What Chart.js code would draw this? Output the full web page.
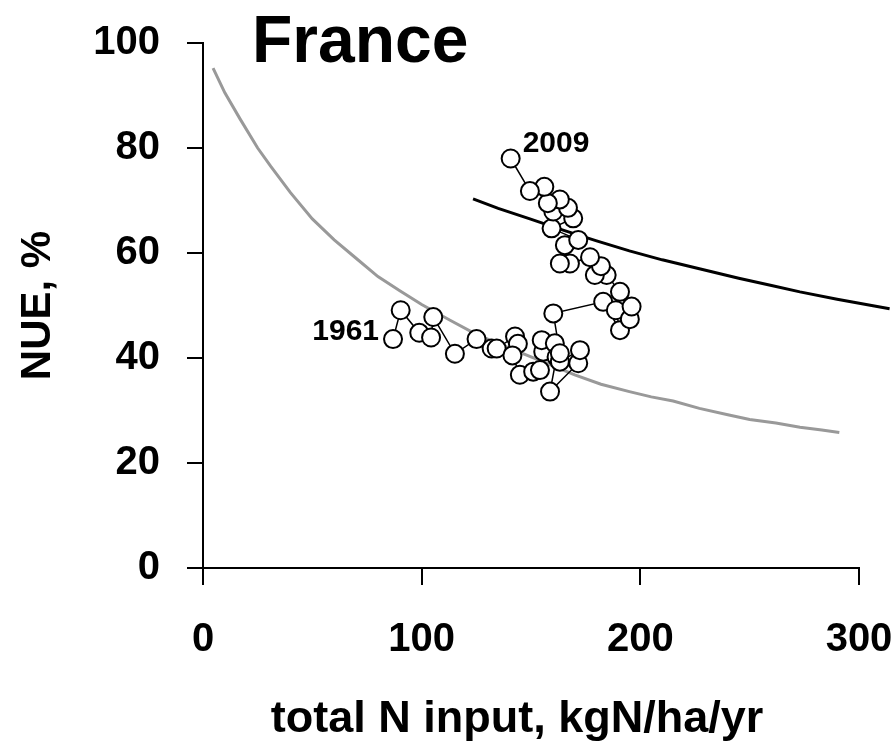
<!DOCTYPE html>
<html><head><meta charset="utf-8">
<script src="https://cdn.jsdelivr.net/npm/chart.js@4/dist/chart.umd.min.js"></script>
<style>html,body{margin:0;padding:0;background:#fff}#wrap{width:895px;height:751px}</style>
</head><body><div id="wrap"><canvas id="c" width="895" height="751"></canvas></div>
<script>
// ---- data ----
const chartTitle = 'France';
const xAxisTitle = 'total N input, kgN/ha/yr';
const yAxisTitle = 'NUE, %';
const firstYearLabel = '1961';
const lastYearLabel = '2009';

// France trajectory 1961 -> 2009 (N input kgN/ha/yr, NUE %)
const nInput = [86.9, 90.4, 98.9, 104.3, 105.3, 115.2, 125.1, 132.0, 134.3, 142.7,
  144.0, 141.5, 144.9, 151.0, 154.1, 155.6, 154.9, 160.9, 161.7, 158.7,
  171.6, 172.4, 163.2, 163.2, 160.2, 183.0, 190.7, 188.8, 195.2, 196.0,
  190.7, 184.6, 179.2, 182.0, 177.0, 167.8, 163.2, 165.5, 171.6, 159.4,
  169.3, 160.2, 166.9, 163.2, 157.7, 156.1, 149.5, 140.7];
const nue = [43.6, 49.1, 44.8, 43.9, 47.8, 40.8, 43.6, 41.8, 41.8, 44.1,
  42.7, 40.5, 36.8, 37.4, 37.7, 41.2, 43.4, 42.8, 40.2, 33.6,
  39.0, 41.5, 39.3, 40.9, 48.5, 50.7, 45.3, 49.1, 47.4, 49.8,
  52.6, 55.8, 55.8, 57.5, 59.2, 58.0, 58.0, 61.5, 62.5, 64.7,
  66.6, 67.9, 68.6, 70.2, 69.5, 72.6, 71.8, 78.0];

// grey reference curve
const greyX = [4.6, 10, 17, 25, 31, 40, 50, 60, 70, 80, 90, 100, 113, 125, 136, 150, 159, 170, 182, 195, 205, 215, 227, 240, 250, 262, 273, 283, 291];
const greyY = [95.2, 90.5, 85.5, 80.0, 76.5, 71.5, 66.5, 62.5, 59.0, 55.5, 52.8, 50.2, 47.2, 44.5, 42.6, 40.2, 38.7, 36.8, 35.0, 33.6, 32.6, 31.8, 30.4, 29.2, 28.3, 27.6, 26.8, 26.3, 25.8];

// black reference curve (runs slightly past the x-axis end)
const blackX = [123.5, 135, 149.5, 165, 180, 195, 210, 227, 245, 260, 273, 290, 314];
const blackY = [70.3, 68.5, 66.5, 64.3, 62.3, 60.4, 58.7, 57.0, 55.2, 53.8, 52.6, 51.2, 49.4];

const xTicks = [0, 100, 200, 300];
const yTicks = [0, 20, 40, 60, 80, 100];

// ---- build ----
const pts = (xs, ys) => xs.map((x, i) => ({x: x, y: ys[i]}));
const FONT = '"Liberation Sans", Arial, sans-serif';

const labelPlugin = {
  id: 'labels',
  afterDatasetsDraw(chart) {
    const ctx = chart.ctx;
    const ca = chart.chartArea;
    const meta = chart.getDatasetMeta(0);
    const first = meta.data[0], last = meta.data[meta.data.length - 1];
    ctx.save();
    ctx.fillStyle = '#000';
    ctx.font = 'bold 30px ' + FONT;
    ctx.textBaseline = 'middle';
    ctx.textAlign = 'right';
    ctx.fillText(firstYearLabel, first.x - 14, first.y - 7);
    ctx.textAlign = 'left';
    ctx.fillText(lastYearLabel, last.x + 12, last.y - 15);
    ctx.font = 'bold 66px ' + FONT;
    ctx.textBaseline = 'alphabetic';
    ctx.fillText(chartTitle, ca.left + 49, ca.top + 19);
    // x-axis title
    ctx.font = 'bold 45px ' + FONT;
    ctx.textAlign = 'center';
    ctx.textBaseline = 'middle';
    ctx.fillText(xAxisTitle, ca.left + (ca.right - ca.left) / 2 - 14, chart.height - 31);
    ctx.restore();
  }
};

new Chart(document.getElementById('c'), {
  type: 'scatter',
  data: {
    datasets: [
      {
        data: pts(nInput, nue), showLine: true, order: 0,
        borderColor: '#000', borderWidth: 1.5,
        pointRadius: 9, pointHoverRadius: 9,
        pointBackgroundColor: '#fff', pointBorderColor: '#000', pointBorderWidth: 2
      },
      {
        data: pts(blackX, blackY), showLine: true, order: 1, clip: false,
        borderColor: '#000', borderWidth: 3, pointRadius: 0
      },
      {
        data: pts(greyX, greyY), showLine: true, order: 2,
        borderColor: '#999999', borderWidth: 3, pointRadius: 0
      }
    ]
  },
  options: {
    responsive: false, animation: false,
    layout: {padding: {top: 43, right: 36, left: 0, bottom: 0}},
    plugins: {legend: {display: false}, tooltip: {enabled: false}},
    scales: {
      x: {
        type: 'linear', min: 0, max: 300,
        afterBuildTicks(s) { s.ticks = xTicks.map(v => ({value: v})); },
        afterFit(s) { s.height = 183; s.paddingLeft = 0; s.paddingRight = 0; },
        ticks: {color: '#000', font: {family: FONT, size: 40, weight: 'bold'}, padding: 31, maxRotation: 0},
        grid: {drawOnChartArea: false, tickLength: 17, color: '#000', lineWidth: 2},
        border: {display: true, color: '#000', width: 2},
        title: {display: false, text: xAxisTitle}
      },
      y: {
        type: 'linear', min: 0, max: 100,
        afterBuildTicks(s) { s.ticks = yTicks.map(v => ({value: v})); },
        afterFit(s) { s.width = 203; s.paddingTop = 0; s.paddingBottom = 0; },
        ticks: {color: '#000', font: {family: FONT, size: 40, weight: 'bold'}, padding: 27},
        grid: {drawOnChartArea: false, tickLength: 16, color: '#000', lineWidth: 2},
        border: {display: true, color: '#000', width: 2},
        title: {display: true, text: yAxisTitle, color: '#000',
          font: {family: FONT, size: 42, weight: 'bold'}, padding: {top: 13, bottom: 0}}
      }
    }
  },
  plugins: [labelPlugin]
});
</script></body></html>
